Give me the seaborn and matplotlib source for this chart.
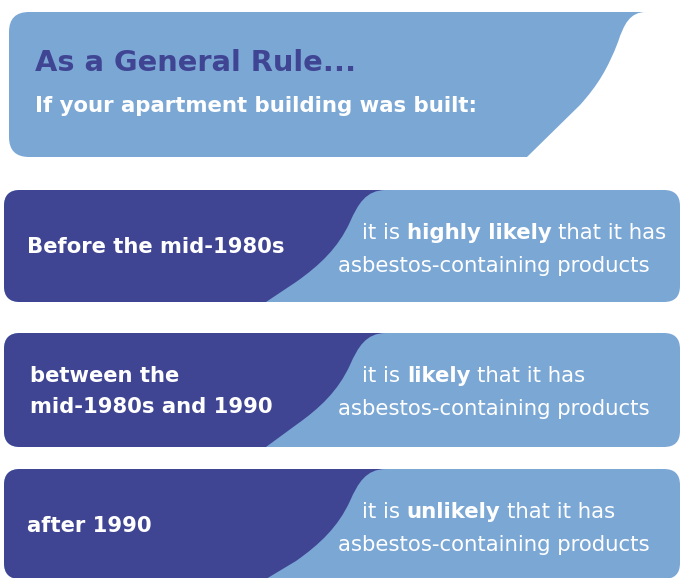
import matplotlib
matplotlib.use("Agg")
import matplotlib.pyplot as plt
import seaborn as sns
from matplotlib.path import Path
from matplotlib.patches import PathPatch, FancyBboxPatch

title = "As a General Rule..."
subtitle = "If your apartment building was built:"
periods = ["Before the mid-1980s", "between the\nmid-1980s and 1990", "after 1990"]
likelihood = ["highly likely", "likely", "unlikely"]
stmt_pre = "it is"
stmt_post = "that it has"
stmt_line2 = "asbestos-containing products"

dark = "#3F4593"
light = "#7BA7D5"

sns.set_theme(style="white")
plt.rcParams['font.family'] = ['DejaVu Sans']

W, H = 681, 578
fig = plt.figure(figsize=(W / 100, H / 100), dpi=100)
ax = fig.add_axes([0, 0, 1, 1])
ax.set_xlim(0, W)
ax.set_ylim(H, 0)
ax.axis('off')

def px(v):
    return v * 0.72

# header banner
r = 20
L, T, B = 9, 12, 157
verts = [(L + r, T), (646, T),
         (630, T), (624, T + 12), (618, T + 30),
         (608, T + 56), (598, T + 73), (580, T + 93),
         (527, B),
         (L + r, B), (L, B), (L, B - r),
         (L, T + r), (L, T), (L + r, T), (L + r, T)]
codes = [Path.MOVETO, Path.LINETO,
         Path.CURVE4, Path.CURVE4, Path.CURVE4,
         Path.CURVE4, Path.CURVE4, Path.CURVE4,
         Path.LINETO,
         Path.LINETO, Path.CURVE3, Path.CURVE3,
         Path.LINETO, Path.CURVE3, Path.CURVE3, Path.CLOSEPOLY]
ax.add_patch(PathPatch(Path(verts, codes), fc=light, ec='none'))
ax.text(35, 71, title, color=dark, fontsize=px(28.9), fontweight='bold', va='baseline')
ax.text(35, 112, subtitle, color='white', fontsize=px(21.3), fontweight='bold', va='baseline')

row_tops = [190, 333, 469]
row_bots = [302, 447, 579]

for i, (T, B) in enumerate(zip(row_tops, row_bots)):
    L, R, r = 4, 680, 16
    ax.add_patch(FancyBboxPatch((L, T), R - L, B - T,
                                boxstyle=f"round,pad=0,rounding_size={r}",
                                fc=light, ec='none'))
    verts = [(L + r, T), (386, T),
             (366, T), (358, T + 14), (350, T + 32),
             (338, T + 58), (320, T + 75), (296, T + 92),
             (266, B),
             (L + r, B), (L, B), (L, B - r),
             (L, T + r), (L, T), (L + r, T), (L + r, T)]
    ax.add_patch(PathPatch(Path(verts, codes), fc=dark, ec='none'))

    lines = periods[i].split("\n")
    lab_fs = px(21.2)
    if len(lines) == 1:
        ax.text(27, T + 63, lines[0], color='white', fontsize=lab_fs, fontweight='bold', va='baseline')
    else:
        ax.text(30, T + 49, lines[0], color='white', fontsize=lab_fs, fontweight='bold', va='baseline')
        ax.text(30, T + 80, lines[1], color='white', fontsize=lab_fs, fontweight='bold', va='baseline')

    fs = px(21.3)
    gap = 0.32 * fs
    t1 = ax.text(362, T + 49, stmt_pre, color='white', fontsize=fs, va='baseline')
    t2 = ax.annotate(likelihood[i], xy=(1, 0), xycoords=t1, xytext=(gap, 0),
                     textcoords='offset points', color='white', fontsize=fs,
                     fontweight='bold', va='bottom')
    ax.annotate(stmt_post, xy=(1, 0), xycoords=t2, xytext=(gap, 0),
                textcoords='offset points', color='white', fontsize=fs, va='bottom')
    ax.text(338, T + 82, stmt_line2, color='white', fontsize=fs, va='baseline')

fig.savefig("out.png", dpi=100, facecolor='white')
